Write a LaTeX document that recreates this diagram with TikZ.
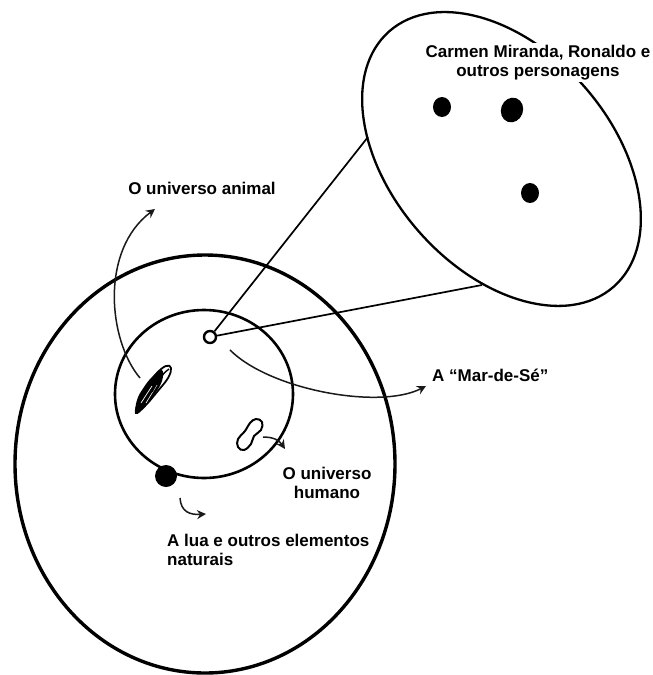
\documentclass[tikz,border=0pt]{standalone}
\usepackage{fontspec}
\setmainfont{Liberation Sans}
\usetikzlibrary{arrows.meta}
\begin{document}
\begin{tikzpicture}[x=1pt,y=-1pt,
  lbl/.style={font=\bfseries\fontsize{17}{19}\selectfont, inner sep=0pt},
  curvearrow/.style={line width=1.5pt, black!90, -{Stealth[length=9pt,width=9pt,inset=3pt]}},
  ring/.style={draw=black, line width=2.6pt},
  cone/.style={draw=black, line width=1.7pt},
  blob/.style={fill=black}]
\useasboundingbox (0,0) rectangle (653,675);

% big world ellipse
\draw[ring, line width=3.4pt] (205,464) ellipse [x radius=190, y radius=209];
% inner circle
\draw[ring] (204,394) ellipse [x radius=89, y radius=84];

% tilted ellipse of characters
\coordinate (ec) at (501.5,159);
\draw[ring, line width=2.3pt, rotate around={-48.7:(ec)}] (ec) ellipse [x radius=170pt, y radius=110pt];

% tangent points on the ellipse
\coordinate (tA) at (368,137);
\coordinate (tB) at (482,285);

% the "Mar-de-Se" small ring
\node[draw, line width=2.4pt, circle, minimum size=12pt, inner sep=0pt] (mar) at (210,337) {};
\draw[cone] (mar) -- (tA);
\draw[cone] (mar) -- (tB);

% dots (characters)
\fill[blob] (442,107) ellipse [x radius=9, y radius=10];
\fill[blob, rotate around={-20:(512,110)}] (512,110) ellipse [x radius=11pt, y radius=12.5pt];
\fill[blob] (530,193) ellipse [x radius=9, y radius=10];

% moon
\node[circle, fill=black, minimum size=22pt, inner sep=0pt] (moon) at (166,476) {};

% leaf (animal universe)
\draw[line width=1.8pt, fill=white] plot[smooth cycle, tension=0.7] coordinates
  {(136,413) (139,400) (147,386) (157,373) (166,366) (171,368) (168,378) (157,392) (145,406)};
\fill[black] plot[smooth cycle, tension=0.7] coordinates
  {(136,413) (137,400) (144,387) (153,376) (162,370) (162,381) (154,395) (144,407)};
\draw[white, line width=0.7pt] (141,403) -- (152,386);
\draw[white, line width=0.6pt] (146,403) -- (157,385);
\draw[line width=1.4pt] (152,392) .. controls (157,382) and (162,374) .. (169,369);
\coordinate (leaf) at (140,378);

% peanut (human universe)
\draw[line width=2pt] plot[smooth cycle, tension=0.7] coordinates
  {(256,419) (262,422) (261,430) (254,436) (251,444) (244,450) (238,447) (238,439) (245,431) (250,423)};
\coordinate (pea) at (263,437);

% arrows
\draw[curvearrow] (leaf) .. controls (108,340) and (100,250) .. (155,209) coordinate (animaltip);
\draw[curvearrow] (230,350) .. controls (270,390) and (380,410) .. (426,386) coordinate (martip);
\draw[curvearrow] (pea) .. controls (273,437) and (279,440) .. (285,449) coordinate (peatip);
\draw[curvearrow] (180,498) .. controls (181,512) and (190,515) .. (206,514) coordinate (moontip);

% labels
\node[lbl, fill=white, inner sep=2pt, align=center, anchor=north] (chars) at (538,43)
  {Carmen Miranda, Ronaldo e\\outros personagens};
\node[lbl, anchor=north] (animal) at (202,182) {O universo animal};
\node[lbl, anchor=base west] (marlbl) at (432,381) {A “Mar-de-Sé”};
\node[lbl, align=center, anchor=north] (human) at (327,467) {O universo\\humano};
\node[lbl, align=left, anchor=north west] (lua) at (167,534) {A lua e outros elementos\\naturais};
\end{tikzpicture}
\end{document}
